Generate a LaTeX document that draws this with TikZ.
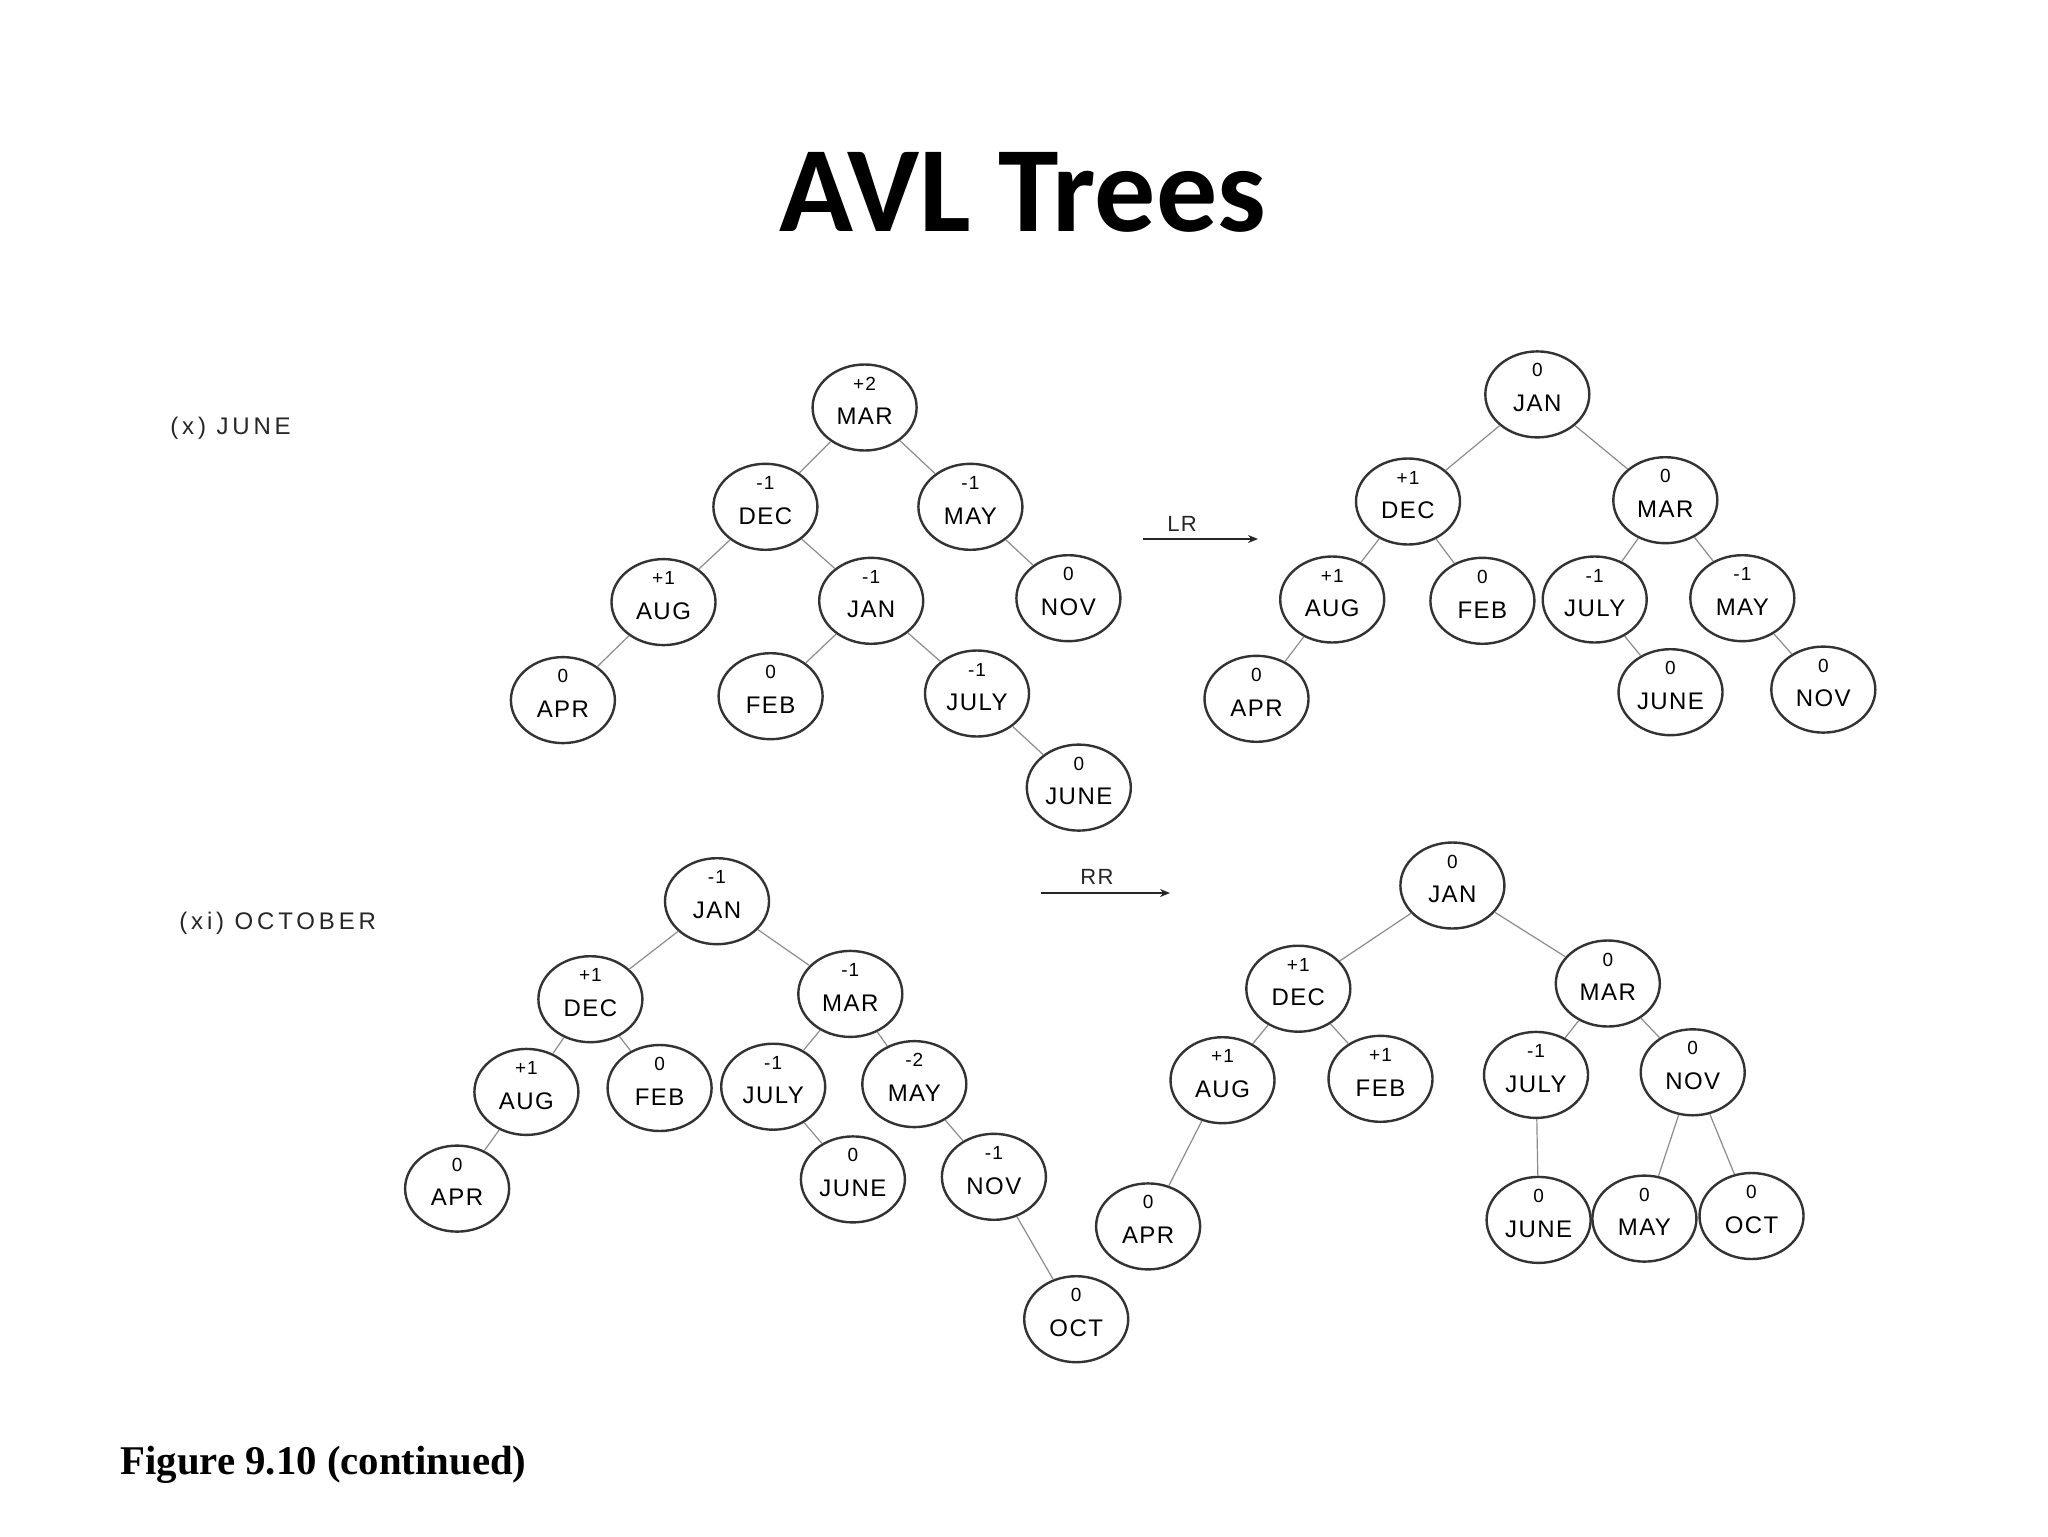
\documentclass[tikz,border=0pt]{standalone}
\usepackage{fontspec}
\setmainfont{Liberation Sans}
\newfontfamily\lett[LetterSpace=6]{Liberation Sans}
\newfontfamily\wide[LetterSpace=16]{Liberation Sans}
\newfontfamily\titlef{Carlito}
\newfontfamily\capf{Liberation Serif}
\usetikzlibrary{shapes.geometric,arrows.meta}
\tikzset{
  tn/.style={ellipse, draw=black!80, line width=1.2pt, minimum width=52pt, minimum height=43pt, inner sep=0pt},
  bal/.style={yshift=12pt, inner sep=0pt, text=black, font=\lett\fontsize{9.5}{10}\selectfont},
  nm/.style={yshift=-4.5pt, inner sep=0pt, text=black, font=\lett\fontsize{12}{13}\selectfont},
  edge/.style={draw=black!45, line width=0.6pt},
  rot/.style={draw=black!85, line width=0.8pt, -{Stealth[length=5pt,width=4pt]}},
  rotlbl/.style={inner sep=0pt, text=black!85, font=\lett\fontsize{11}{12}\selectfont},
  case/.style={anchor=west, inner sep=0pt, text=black!85, font=\wide\fontsize{12}{13}\selectfont}
}
\newcommand\tnode[4]{\node[tn, label={[bal]center:#3}, label={[nm]center:#4}] (#1) at (#2) {};}
\begin{document}
\begin{tikzpicture}[x=0.5pt,y=-0.5pt]
\useasboundingbox[fill=white] (0,0) rectangle (2048,1536);
% title
\node[inner sep=0pt, font=\titlef\bfseries\fontsize{61}{70}\selectfont] (title) at (1023,192) {AVL Trees};
% case labels
\node[case] (cx) at (170,428) {(x) JUNE};
\node[case] (cxi) at (179,923) {(xi) OCTOBER};
% caption
\node[anchor=west, inner sep=0pt, font=\capf\bfseries\fontsize{20.4}{24}\selectfont] (cap) at (120,1465) {Figure 9.10 (continued)};

% ---- tree (x) before
\tnode{a1}{864.6,407.5}{+2}{MAR}
\tnode{a2}{765.4,506.8}{-1}{DEC}
\tnode{a3}{970.4,506.8}{-1}{MAY}
\tnode{a4}{663.5,602.1}{+1}{AUG}
\tnode{a5}{871.2,600.8}{-1}{JAN}
\tnode{a6}{1068.4,598.2}{0}{NOV}
\tnode{a7}{562.9,700.1}{0}{APR}
\tnode{a8}{770.6,696.2}{0}{FEB}
\tnode{a9}{977.0,693.5}{-1}{JULY}
\tnode{a10}{1078.8,787.6}{0}{JUNE}
\draw[edge] (a1)--(a2) (a1)--(a3) (a2)--(a4) (a2)--(a5) (a3)--(a6)
  (a4)--(a7) (a5)--(a8) (a5)--(a9) (a9)--(a10);

% ---- tree (x) after
\tnode{b1}{1537.3,394.4}{0}{JAN}
\tnode{b2}{1408.0,501.5}{+1}{DEC}
\tnode{b3}{1665.3,500.2}{0}{MAR}
\tnode{b4}{1332.2,599.5}{+1}{AUG}
\tnode{b5}{1482.4,600.8}{0}{FEB}
\tnode{b6}{1594.7,599.5}{-1}{JULY}
\tnode{b7}{1742.3,598.2}{-1}{MAY}
\tnode{b8}{1256.5,698.8}{0}{APR}
\tnode{b9}{1670.5,692.2}{0}{JUNE}
\tnode{b10}{1823.3,689.6}{0}{NOV}
\draw[edge] (b1)--(b2) (b1)--(b3) (b2)--(b4) (b2)--(b5) (b3)--(b6) (b3)--(b7)
  (b4)--(b8) (b6)--(b9) (b7)--(b10);

% LR arrow
\coordinate (lr1) at (1143,539);
\coordinate (lr2) at (1258,539);
\draw[rot] (lr1) -- (lr2);
\node[rotlbl] (lrl) at (1182,524) {LR};

% ---- tree (xi) before
\tnode{c1}{717.0,901.2}{-1}{JAN}
\tnode{c2}{590.4,999.2}{+1}{DEC}
\tnode{c3}{850.3,993.9}{-1}{MAR}
\tnode{c4}{526.4,1091.9}{+1}{AUG}
\tnode{c5}{659.6,1088.0}{0}{FEB}
\tnode{c6}{773.2,1086.7}{-1}{JULY}
\tnode{c7}{914.3,1084.1}{-2}{MAY}
\tnode{c8}{457.1,1188.6}{0}{APR}
\tnode{c9}{852.9,1179.4}{0}{JUNE}
\tnode{c10}{993.9,1176.8}{-1}{NOV}
\tnode{c11}{1076.2,1319.2}{0}{OCT}
\draw[edge] (c1)--(c2) (c1)--(c3) (c2)--(c4) (c2)--(c5) (c3)--(c6) (c3)--(c7)
  (c4)--(c8) (c6)--(c9) (c7)--(c10) (c10)--(c11);

% RR arrow
\coordinate (rr1) at (1041,893);
\coordinate (rr2) at (1170,893);
\draw[rot] (rr1) -- (rr2);
\node[rotlbl] (rrl) at (1097,877) {RR};

% ---- tree (xi) after
\tnode{d1}{1452.4,885.5}{0}{JAN}
\tnode{d2}{1298.3,988.7}{+1}{DEC}
\tnode{d3}{1607.8,983.5}{0}{MAR}
\tnode{d4}{1222.5,1080.2}{+1}{AUG}
\tnode{d5}{1380.5,1078.8}{+1}{FEB}
\tnode{d6}{1536.0,1074.9}{-1}{JULY}
\tnode{d7}{1692.7,1072.3}{0}{NOV}
\tnode{d8}{1148.1,1226.4}{0}{APR}
\tnode{d9}{1538.6,1219.9}{0}{JUNE}
\tnode{d10}{1644.4,1218.6}{0}{MAY}
\tnode{d11}{1751.5,1216.0}{0}{OCT}
\draw[edge] (d1)--(d2) (d1)--(d3) (d2)--(d4) (d2)--(d5) (d3)--(d6) (d3)--(d7)
  (d4)--(d8) (d6)--(d9) (d7)--(d10) (d7)--(d11);
\end{tikzpicture}
\end{document}
